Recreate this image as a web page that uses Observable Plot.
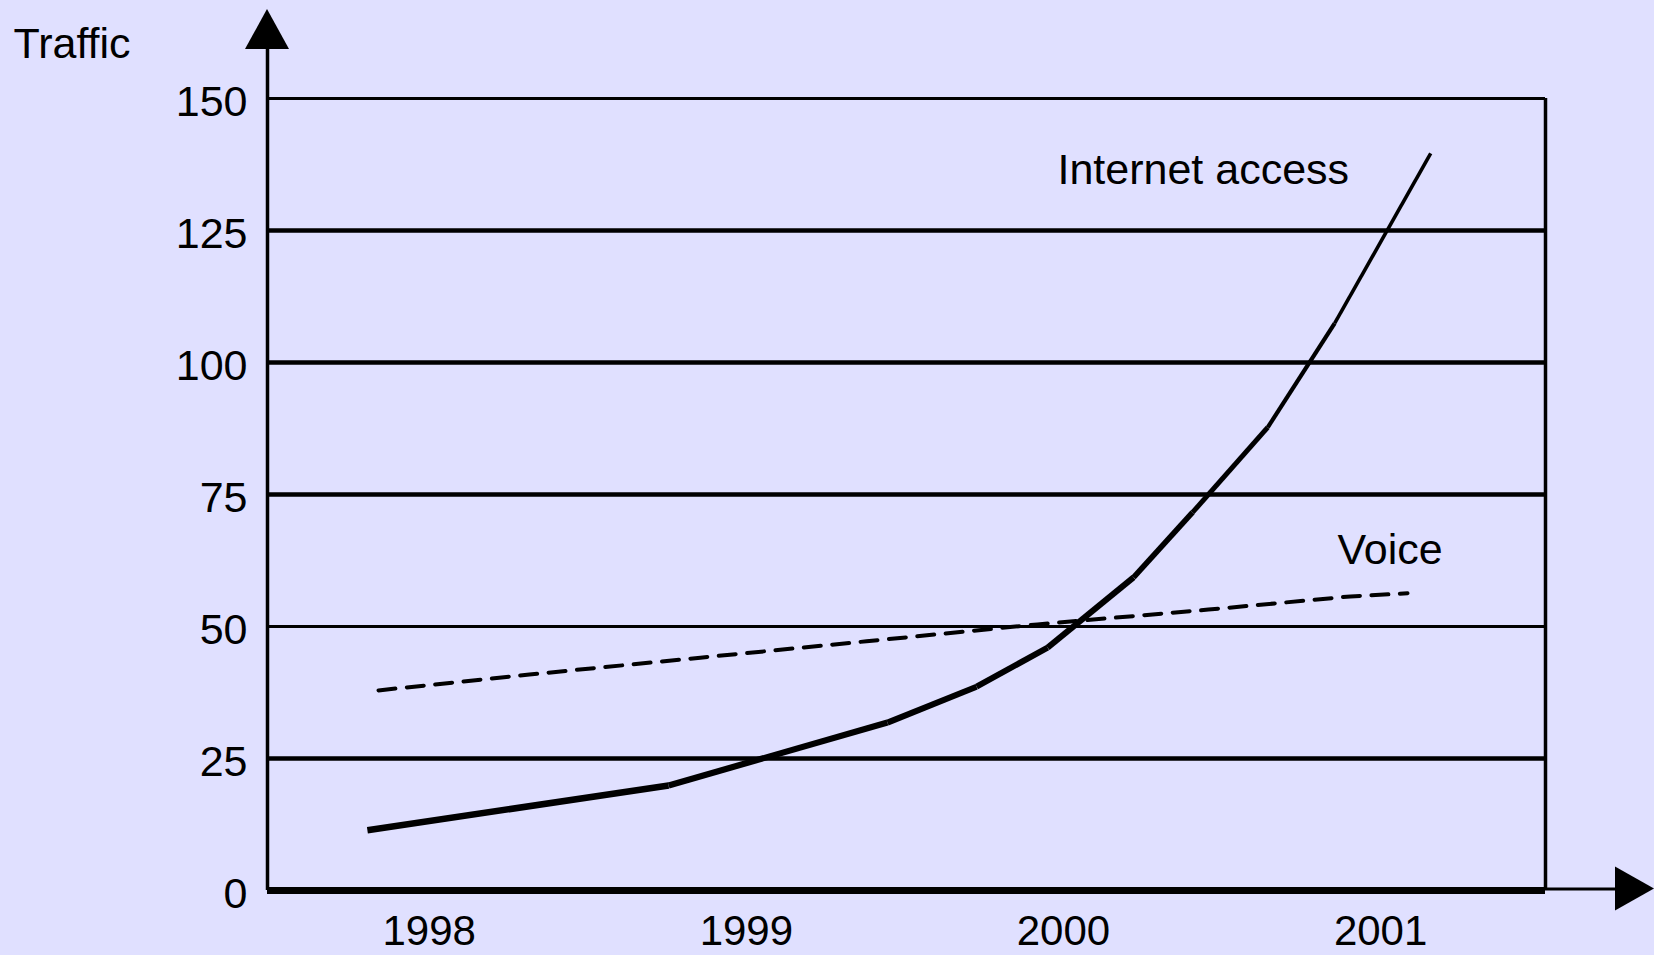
<!DOCTYPE html>
<html><head><meta charset="utf-8">
<script src="https://cdn.jsdelivr.net/npm/d3@7"></script>
<script src="https://cdn.jsdelivr.net/npm/@observablehq/plot@0.6"></script>
<style>
html,body{margin:0;padding:0;background:#e0e0ff;}
#chart{width:1654px;height:955px;overflow:hidden}
</style></head><body><div id="chart"></div>
<script>
// ---- data ----
const internetYears  = [1997.805, 1998.755, 1999.445, 1999.726, 1999.950, 2000.221, 2000.407, 2000.644, 2000.855, 2001.158];
const internetValues = [11.4, 19.9, 31.8, 38.6, 46.0, 59.3, 71.6, 87.7, 107.4, 139.6];
const voiceYears  = [1997.840, 1998.316, 1998.855, 1999.379, 1999.918, 2000.457, 2000.905, 2001.085];
const voiceValues = [37.9, 40.9, 44.1, 47.2, 50.4, 53.2, 55.7, 56.3];
const yTicks = [0, 25, 50, 75, 100, 125, 150];
const xTicks = [1998, 1999, 2000, 2001];
const yTitle = "Traffic";
const seriesLabels = ["Internet access", "Voice"];

const internet = internetYears.map((x, i) => ({x, y: internetValues[i]}));
const voice = voiceYears.map((x, i) => ({x, y: voiceValues[i]}));
const segments = d3.pairs(internet).map(([a, b], i) => ({x1: a.x, y1: a.y, x2: b.x, y2: b.y, i}));

// stroke widths of the Internet line segments (thick at the start, thinner at the top)
const segWidths = [6.5, 6.2, 6, 6, 6, 5.6, 5, 4.2, 3.6];

const FONT = "'Liberation Sans', Arial, Helvetica, sans-serif";
const X0 = 1997.49, X1 = 2001.52;

const plot = Plot.plot({
  width: 1654, height: 955,
  marginLeft: 267, marginRight: 109, marginTop: 98, marginBottom: 65,
  style: {background: "#e0e0ff", fontFamily: FONT, fontSize: "43px", color: "black"},
  x: {domain: [X0, X1]},
  y: {domain: [0, 150]},
  marks: [
    Plot.ruleY(yTicks.filter(d => d > 0), {y: d => d, stroke: "black",
      strokeWidth: d => (d === 50 || d === 150) ? 3 : 4.5}),
    Plot.ruleX([X0], {y1: 0, y2: 159.3, stroke: "black", strokeWidth: 3.5}),
    Plot.ruleX([X1], {y1: 0, y2: 150, stroke: "black", strokeWidth: 3.5}),
    Plot.ruleY([0], {stroke: "black", strokeWidth: 7}),
    Plot.ruleY([0.3], {x1: X1, x2: 2001.745, stroke: "black", strokeWidth: 3}),
    Plot.axisY({ticks: yTicks, tickSize: 0, tickPadding: 20, dy: 4, fontSize: 43, label: null, tickFormat: d => String(d)}),
    Plot.axisX({ticks: xTicks, tickSize: 0, tickPadding: 25, fontSize: 42, label: null, tickFormat: d => String(d)}),
    Plot.line(voice, {x: "x", y: "y", stroke: "black", strokeWidth: 4, strokeDasharray: "17,11.5"}),
    Plot.link(segments, {x1: "x1", y1: "y1", x2: "x2", y2: "y2", stroke: "black",
      strokeWidth: d => segWidths[d.i]}),
    Plot.text([seriesLabels[0]], {x: () => 1999.981, y: () => 133.9, text: d => d,
      textAnchor: "start", lineAnchor: "bottom", fontSize: 43}),
    Plot.text([seriesLabels[1]], {x: () => 2000.864, y: () => 61.9, text: d => d,
      textAnchor: "start", lineAnchor: "bottom", fontSize: 43}),
    Plot.text([yTitle], {frameAnchor: "top-left", dx: -254, dy: -41, text: d => d,
      textAnchor: "start", lineAnchor: "bottom", fontSize: 43, letterSpacing: "1px"})
  ]
});

// arrowheads on the axes, positioned from the plot's scales
const sx = plot.scale("x"), sy = plot.scale("y");
const ax = sx.apply(X0), ayTop = sy.apply(150);
const bx = sx.apply(X1), by0 = sy.apply(0);
const svg = d3.select(plot);
svg.append("path")
  .attr("d", `M${ax},${ayTop - 89}L${ax - 22},${ayTop - 49}L${ax + 22},${ayTop - 49}Z`)
  .attr("fill", "black");
svg.append("path")
  .attr("d", `M${bx + 109},${by0 - 1.5}L${bx + 70},${by0 - 23.5}L${bx + 70},${by0 + 20.5}Z`)
  .attr("fill", "black");

document.getElementById("chart").appendChild(plot);
</script>
</body></html>
